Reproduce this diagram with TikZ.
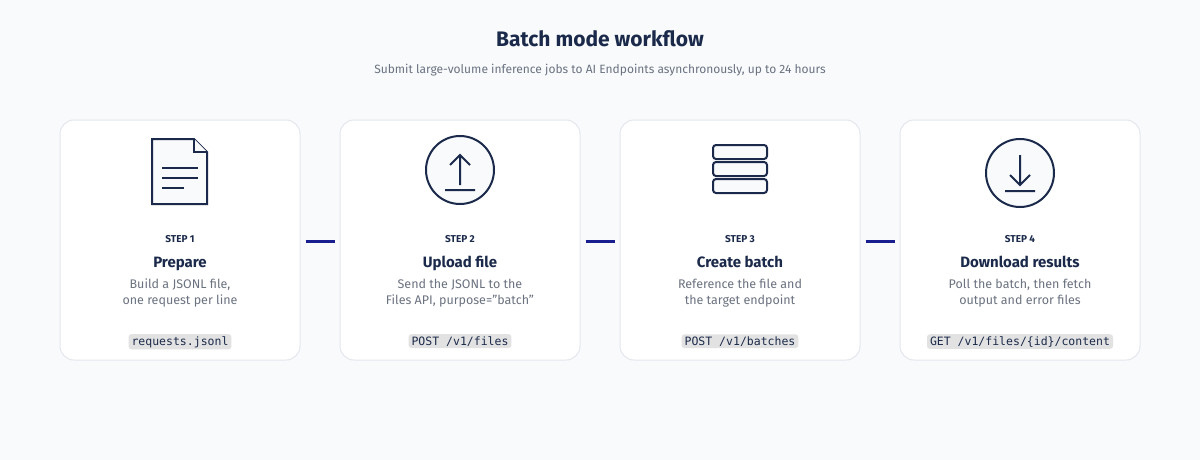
\documentclass[tikz,border=0pt]{standalone}
\usepackage{fontspec}
\setmainfont{Fira Sans}
\setmonofont{DejaVu Sans Mono}
\definecolor{bg}{HTML}{F8FAFC}
\definecolor{navy}{HTML}{1B2A4A}
\definecolor{gray}{HTML}{6B7280}
\definecolor{edge}{HTML}{E3E7ED}
\definecolor{codebg}{HTML}{E2E2E2}
\definecolor{conn}{HTML}{1A1F8F}
\begin{document}
\begin{tikzpicture}[x=1pt,y=-1pt,
 card/.style={draw=edge,line width=1pt,fill=white,rounded corners=14pt,minimum width=240pt,minimum height=240pt,inner sep=0},
 steplbl/.style={font=\fontsize{10}{12}\selectfont\bfseries,text=navy,anchor=base},
 ttl/.style={font=\fontsize{15}{18}\selectfont\bfseries,text=navy,anchor=base},
 body/.style={font=\fontsize{12.5}{16}\selectfont,text=gray,align=center,anchor=north,inner sep=0},
 code/.style={font=\fontsize{11.5}{13}\ttfamily,text=navy,fill=codebg,rounded corners=3pt,inner xsep=3pt,inner ysep=2pt,anchor=base},
 icon/.style={draw=navy,line width=2pt,fill=bg},
 conline/.style={draw=conn,line width=3pt}]
\fill[bg] (0,0) rectangle (1200,460);
\useasboundingbox (0,0) rectangle (1200,460);
\node[font=\fontsize{21}{24}\selectfont\bfseries,text=navy,anchor=base] (title) at (600,47) {Batch mode workflow};
\node[font=\fontsize{12}{14}\selectfont,text=gray,anchor=base] (sub) at (600,74) {Submit large-volume inference jobs to AI Endpoints asynchronously, up to 24 hours};
\foreach \i/\cx in {1/180,2/460,3/740,4/1020}{
  \node[card] (c\i) at (\cx,240) {};
}
\foreach \a/\b in {1/2,2/3,3/4}{
  \coordinate (l\a) at ([xshift=5pt,yshift=-1pt]c\a.east);
  \coordinate (r\a) at ([xshift=-5pt,yshift=-1pt]c\b.west);
  \draw[conline] (l\a) -- (r\a);
}
\draw[icon,line join=miter] (152,139) -- (194,139) -- (207,152) -- (207,204) -- (152,204) -- cycle;
\draw[icon] (194,139) -- (194,152) -- (207,152);
\draw[navy,line width=2pt] (162,168) -- (198,168) (162,178) -- (198,178) (162,188) -- (184,188);
\draw[icon] (460,170) circle (34);
\draw[navy,line width=2pt] (460,185) -- (460,155) (450,165) -- (460,155) -- (470,165) (445,190) -- (475,190);
\foreach \y in {145,162,179}{\draw[icon,rounded corners=3pt] (713,\y) rectangle (767,\y+14);}
\draw[icon] (1020,173) circle (34);
\draw[navy,line width=2pt] (1020,155) -- (1020,185) (1010,175) -- (1020,185) -- (1030,175) (1005,191) -- (1035,191);
\foreach \i/\cx/\t/\ba/\bb/\cd in {
 1/180/Prepare/{Build a JSONL file,}/{one request per line}/{requests.jsonl},
 2/460/Upload file/{Send the JSONL to the}/{Files API, purpose=\symbol{34}batch\symbol{34}}/{POST /v1/files},
 3/740/Create batch/{Reference the file and}/{the target endpoint}/{POST /v1/batches},
 4/1020/Download results/{Poll the batch, then fetch}/{output and error files}/{GET /v1/files/\{id\}/content}}{
  \node[steplbl] (s\i) at (\cx,242) {STEP \i};
  \node[ttl] (t\i) at (\cx,267) {\t};
  \node[body] (b\i) at (\cx,279) {\ba\\\bb};
  \node[code] (k\i) at (\cx,345) {\cd};
}
\end{tikzpicture}
\end{document}
